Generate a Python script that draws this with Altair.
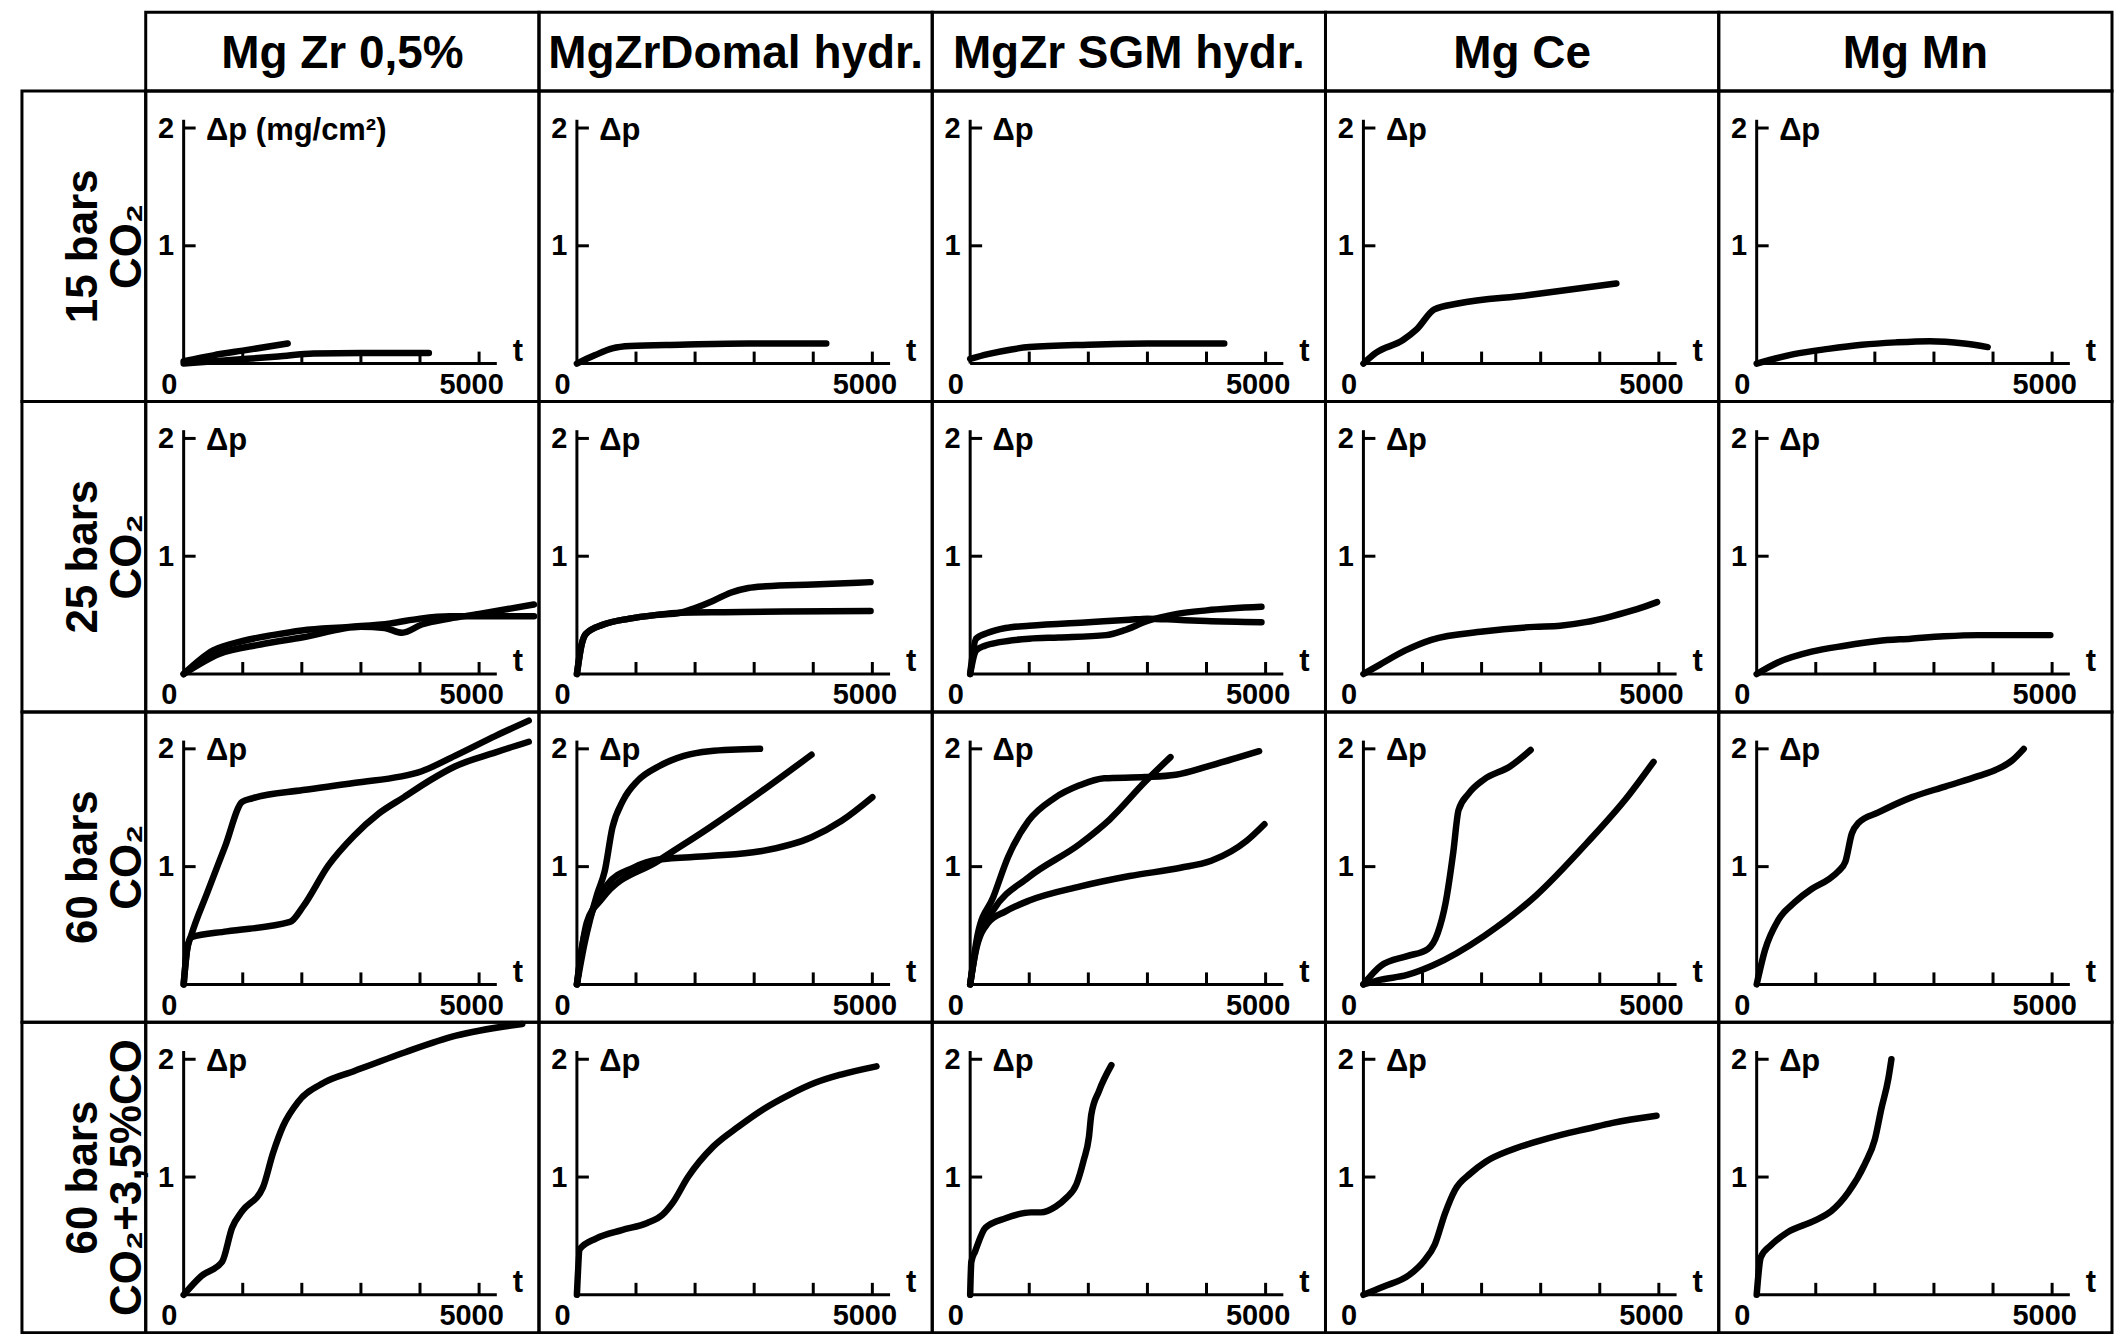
import altair as alt
import pandas as pd

# ---------------- data (t, delta p) ----------------
COLUMNS = ["Mg Zr  0,5%", "MgZrDomal hydr.", "MgZr SGM hydr.", "Mg Ce", "Mg Mn"]
ROWS = ["15 bars\nCO\u2082", "25 bars\nCO\u2082", "60 bars\nCO\u2082", "60 bars\nCO\u2082+3,5%CO"]

X_LABELS = [0, 5000]
X_TICKS = [1000, 2000, 3000, 4000, 5000]
Y_TICKS = [1, 2]

# row 1: 15 bars CO2
R1_MGZR05 = [
    ([0, 500, 1000, 1760], [0.02, 0.07, 0.11, 0.17]),
    ([0, 800, 1600, 2200, 3000, 4150], [0.0, 0.03, 0.06, 0.085, 0.09, 0.09]),
]
R1_DOMAL = [
    ([0, 300, 600, 900, 1750, 2900, 4220], [0.0, 0.07, 0.13, 0.15, 0.16, 0.17, 0.17]),
]
R1_SGM = [
    ([0, 300, 700, 1000, 2000, 3000, 4300], [0.04, 0.08, 0.12, 0.14, 0.16, 0.17, 0.17]),
]
R1_CE = [
    ([0, 210, 670, 900, 1200, 1600, 2770, 4280], [0.0, 0.09, 0.20, 0.29, 0.46, 0.51, 0.58, 0.68]),
]
R1_MN = [
    ([0, 630, 1210, 1780, 2360, 2930, 3510, 3910], [0.0, 0.08, 0.125, 0.16, 0.18, 0.19, 0.17, 0.14]),
]

# row 2: 25 bars CO2
R2_MGZR05 = [
    ([0, 500, 1000, 1500, 2000, 2800, 3500, 4000, 4500, 5000, 5930],
     [0.0, 0.20, 0.28, 0.33, 0.37, 0.40, 0.43, 0.47, 0.49, 0.49, 0.49]),
    ([0, 600, 1300, 2000, 3000, 3400, 3700, 4030, 4500, 5000, 5930],
     [0.0, 0.17, 0.25, 0.31, 0.40, 0.39, 0.35, 0.42, 0.47, 0.51, 0.59]),
]
R2_DOMAL = [
    ([0, 80, 150, 450, 890, 1320, 1750, 2000, 2300, 2600, 2900, 3200, 4000, 4970],
     [0.0, 0.25, 0.34, 0.42, 0.47, 0.50, 0.52, 0.56, 0.62, 0.69, 0.73, 0.745, 0.76, 0.78]),
    ([0, 80, 150, 450, 890, 1320, 1750, 2500, 3500, 4970],
     [0.0, 0.25, 0.34, 0.42, 0.47, 0.50, 0.52, 0.525, 0.53, 0.535]),
]
R2_SGM = [
    ([0, 100, 300, 600, 1000, 2000, 2700, 3000, 3500, 4000, 4930],
     [0.0, 0.30, 0.35, 0.39, 0.41, 0.44, 0.46, 0.47, 0.46, 0.45, 0.44]),
    ([0, 100, 250, 500, 1000, 1500, 2300, 2600, 3000, 3500, 4000, 4930],
     [0.0, 0.20, 0.24, 0.27, 0.30, 0.31, 0.33, 0.37, 0.45, 0.51, 0.54, 0.57]),
]
R2_CE = [
    ([0, 280, 710, 1150, 2020, 2890, 3330, 3760, 4200, 4630, 4970],
     [0.0, 0.08, 0.20, 0.29, 0.36, 0.40, 0.41, 0.44, 0.49, 0.55, 0.61]),
]
R2_MN = [
    ([0, 365, 930, 1490, 2050, 2610, 3170, 3740, 4300, 4970],
     [0.0, 0.10, 0.19, 0.24, 0.28, 0.30, 0.32, 0.33, 0.33, 0.33]),
]

# row 3: 60 bars CO2
R3_MGZR05 = [
    ([0, 60, 130, 400, 700, 990, 1160, 2020, 2880, 4030, 4590, 5280, 5840],
     [0.0, 0.30, 0.42, 0.78, 1.17, 1.55, 1.58, 1.65, 1.71, 1.81, 1.94, 2.11, 2.24]),
    ([0, 60, 130, 730, 1800, 2020, 2450, 2880, 3300, 3730, 4160, 4590, 5280, 5840],
     [0.0, 0.30, 0.40, 0.45, 0.53, 0.66, 1.01, 1.26, 1.45, 1.59, 1.73, 1.85, 1.97, 2.06]),
]
R3_DOMAL = [
    ([0, 130, 345, 470, 600, 780, 1030, 1380, 1810, 2240, 3100],
     [0.0, 0.35, 0.77, 0.96, 1.33, 1.56, 1.73, 1.85, 1.94, 1.98, 2.00]),
    ([0, 170, 430, 1380, 2240, 3100, 3970],
     [0.0, 0.53, 0.73, 1.05, 1.33, 1.63, 1.95]),
    ([0, 90, 260, 520, 950, 1380, 2240, 3100, 3970, 4480, 5000],
     [0.0, 0.33, 0.62, 0.85, 0.99, 1.06, 1.09, 1.13, 1.25, 1.39, 1.59]),
]
R3_SGM = [
    ([0, 130, 390, 640, 990, 1420, 1850, 2270, 2960, 3480, 4080, 4890],
     [0.0, 0.43, 0.74, 1.08, 1.39, 1.58, 1.69, 1.75, 1.76, 1.78, 1.86, 1.98]),
    ([0, 130, 390, 990, 1850, 2360, 2960, 3390],
     [0.0, 0.38, 0.63, 0.91, 1.19, 1.40, 1.72, 1.93]),
    ([0, 90, 300, 600, 990, 1850, 2700, 3560, 4080, 4420, 4680, 4980],
     [0.0, 0.27, 0.52, 0.62, 0.71, 0.83, 0.92, 0.99, 1.05, 1.13, 1.22, 1.36]),
]
R3_CE = [
    ([0, 300, 740, 1090, 1260, 1390, 1520, 1610, 1780, 2040, 2480, 2830],
     [0.0, 0.16, 0.24, 0.30, 0.44, 0.69, 1.12, 1.48, 1.62, 1.74, 1.85, 1.99]),
    ([0, 300, 740, 1170, 2040, 2910, 3780, 4480, 4910],
     [0.0, 0.04, 0.08, 0.16, 0.41, 0.75, 1.20, 1.60, 1.89]),
]
R3_MN = [
    ([0, 140, 370, 650, 930, 1210, 1380, 1500, 1610, 1720, 2060, 2630, 3190, 3760, 4040, 4320, 4520],
     [0.0, 0.29, 0.55, 0.70, 0.81, 0.89, 0.96, 1.04, 1.28, 1.37, 1.46, 1.59, 1.68, 1.77, 1.82, 1.90, 2.00]),
]

# row 4: 60 bars CO2 + 3,5 % CO
R4_MGZR05 = [
    ([0, 300, 650, 820, 990, 1340, 1510, 1680, 1940, 2370, 2890, 3750, 4610, 5730],
     [0.0, 0.16, 0.28, 0.57, 0.71, 0.91, 1.20, 1.43, 1.64, 1.80, 1.90, 2.06, 2.20, 2.30]),
]
R4_DOMAL = [
    ([0, 50, 330, 760, 1190, 1450, 1620, 1880, 2310, 2740, 3170, 3600, 4030, 4470, 5070],
     [0.0, 0.39, 0.48, 0.55, 0.61, 0.68, 0.78, 1.00, 1.26, 1.43, 1.58, 1.70, 1.80, 1.87, 1.94]),
]
R4_SGM = [
    ([0, 20, 85, 260, 600, 1030, 1200, 1450, 1620, 1800, 1920, 2010, 2050, 2180, 2390],
     [0.0, 0.28, 0.37, 0.57, 0.65, 0.70, 0.70, 0.75, 0.82, 0.94, 1.14, 1.34, 1.53, 1.73, 1.95]),
]
R4_CE = [
    ([0, 345, 780, 1030, 1210, 1380, 1550, 1810, 2070, 2500, 2930, 3360, 3790, 4220, 4960],
     [0.0, 0.07, 0.17, 0.29, 0.43, 0.69, 0.89, 1.03, 1.13, 1.23, 1.30, 1.36, 1.41, 1.46, 1.52]),
]
R4_MN = [
    ([0, 70, 240, 520, 980, 1260, 1550, 1830, 2000, 2110, 2230, 2280],
     [0.0, 0.32, 0.42, 0.53, 0.63, 0.71, 0.87, 1.11, 1.32, 1.58, 1.84, 2.00]),
]

GRID = [
    [R1_MGZR05, R1_DOMAL, R1_SGM, R1_CE, R1_MN],
    [R2_MGZR05, R2_DOMAL, R2_SGM, R2_CE, R2_MN],
    [R3_MGZR05, R3_DOMAL, R3_SGM, R3_CE, R3_MN],
    [R4_MGZR05, R4_DOMAL, R4_SGM, R4_CE, R4_MN],
]

# ---------------- layout / style ----------------
FONT = "Liberation Sans, Arial, sans-serif"
COL_W, LABEL_W, HEAD_H, ROW_H = 394, 124, 79, 311
AX_X, AX_Y = 38, 273            # position of the origin inside a cell (px)
PX_PER_T = 296 / 5000
PX_PER_P = 118
T_DOMAIN = [-AX_X / PX_PER_T, (COL_W - AX_X) / PX_PER_T]
P_DOMAIN = [-(ROW_H - AX_Y) / PX_PER_P, AX_Y / PX_PER_P]
T_AXIS_END, P_AXIS_END = 5300, 2.07
T_TITLE_AT = 5650
TICK_PX = 12
BORDER = dict(stroke="black", strokeWidth=3)


def x_axis():
    return alt.Axis(
        values=X_LABELS, format="d", domain=False, ticks=False, tickSize=0, grid=False,
        labelFont=FONT, labelFontSize=29, labelFontWeight="bold", labelColor="black",
        labelPadding=7, labelFlush=False, labelOverlap=False,
        labelOffset={"condition": {"test": "datum.value == 0", "value": -15}, "value": -8},
        offset=-(ROW_H - AX_Y),
        title="t", titleFont=FONT, titleFontSize=31, titleFontWeight="bold", titleColor="black",
        titleAngle=0, titleAlign="center", titleBaseline="alphabetic",
        titleX=AX_X + T_TITLE_AT * PX_PER_T, titleY=-3,
    )


def y_axis(title):
    return alt.Axis(
        values=Y_TICKS, format="d", domain=False, ticks=False, tickSize=0, grid=False,
        labelFont=FONT, labelFontSize=29, labelFontWeight="bold", labelColor="black",
        labelPadding=10, labelOverlap=False,
        offset=-AX_X,
        title=title, titleFont=FONT, titleFontSize=31, titleFontWeight="bold", titleColor="black",
        titleAngle=0, titleAlign="left", titleBaseline="middle",
        titleX=22, titleY=AX_Y - 2 * PX_PER_P + 2,
    )


def panel(curves, ytitle):
    recs = []
    for ci, (ts, ps) in enumerate(curves):
        for oi, (t, p) in enumerate(zip(ts, ps)):
            recs.append({"curve": ci, "order": oi, "t": t, "p": p})
    df = pd.DataFrame(recs)
    xs = alt.Scale(domain=T_DOMAIN, nice=False, zero=False)
    ys = alt.Scale(domain=P_DOMAIN, nice=False, zero=False)
    xa, ya = x_axis(), y_axis(ytitle)

    axes_df = pd.DataFrame({"t": [0, 0], "p": [0, 0], "t2": [T_AXIS_END, 0], "p2": [0, P_AXIS_END]})
    xt_df = pd.DataFrame({"t": X_TICKS, "p": [0] * len(X_TICKS),
                          "t2": X_TICKS, "p2": [TICK_PX / PX_PER_P] * len(X_TICKS)})
    yt_df = pd.DataFrame({"t": [0] * len(Y_TICKS), "p": Y_TICKS,
                          "t2": [TICK_PX / PX_PER_T] * len(Y_TICKS), "p2": Y_TICKS})
    ticks_df = pd.concat([axes_df, xt_df, yt_df], ignore_index=True)

    frame = alt.Chart(ticks_df).mark_rule(color="black", strokeWidth=3).encode(
        x=alt.X("t:Q", scale=xs, axis=xa),
        y=alt.Y("p:Q", scale=ys, axis=ya),
        x2="t2:Q", y2="p2:Q",
    )
    lines = alt.Chart(df).mark_line(
        color="black", strokeWidth=6.5, interpolate="monotone", strokeCap="round", strokeJoin="round"
    ).encode(
        x=alt.X("t:Q", scale=xs, axis=xa),
        y=alt.Y("p:Q", scale=ys, axis=ya),
        detail="curve:N", order="order:Q",
    )
    return alt.layer(frame, lines).properties(
        width=COL_W, height=ROW_H, view=alt.ViewBackground(**BORDER)
    )


def header(text):
    return alt.Chart(pd.DataFrame({"label": [text]})).mark_text(
        font=FONT, fontSize=46, fontWeight="bold", color="black", baseline="middle", dy=2
    ).encode(text="label:N").properties(
        width=COL_W, height=HEAD_H, view=alt.ViewBackground(**BORDER)
    )


def row_label(text):
    return alt.Chart(pd.DataFrame({"label": [text]})).mark_text(
        font=FONT, fontSize=44, fontWeight="bold", color="black", angle=270,
        lineBreak="\n", lineHeight=44, baseline="middle"
    ).encode(text="label:N").properties(
        width=LABEL_W, height=ROW_H, view=alt.ViewBackground(**BORDER)
    )


corner = alt.Chart(pd.DataFrame({"a": [0]})).mark_point(opacity=0).properties(
    width=LABEL_W, height=HEAD_H, view=alt.ViewBackground(strokeOpacity=0)
)

cells = [corner] + [header(c) for c in COLUMNS]
for ri, rlabel in enumerate(ROWS):
    cells.append(row_label(rlabel))
    for ci in range(len(COLUMNS)):
        ytitle = "\u0394p (mg/cm\u00b2)" if (ri == 0 and ci == 0) else "\u0394p"
        cells.append(panel(GRID[ri][ci], ytitle))

chart = alt.concat(*cells, columns=6, spacing=0, bounds="flush").properties(
    padding={"left": 20, "top": 9, "right": 0, "bottom": 0},
    background="white",
).configure_view(stroke="black", strokeWidth=3)

chart.save("out.html", embed_options={"renderer": "svg", "actions": False})
